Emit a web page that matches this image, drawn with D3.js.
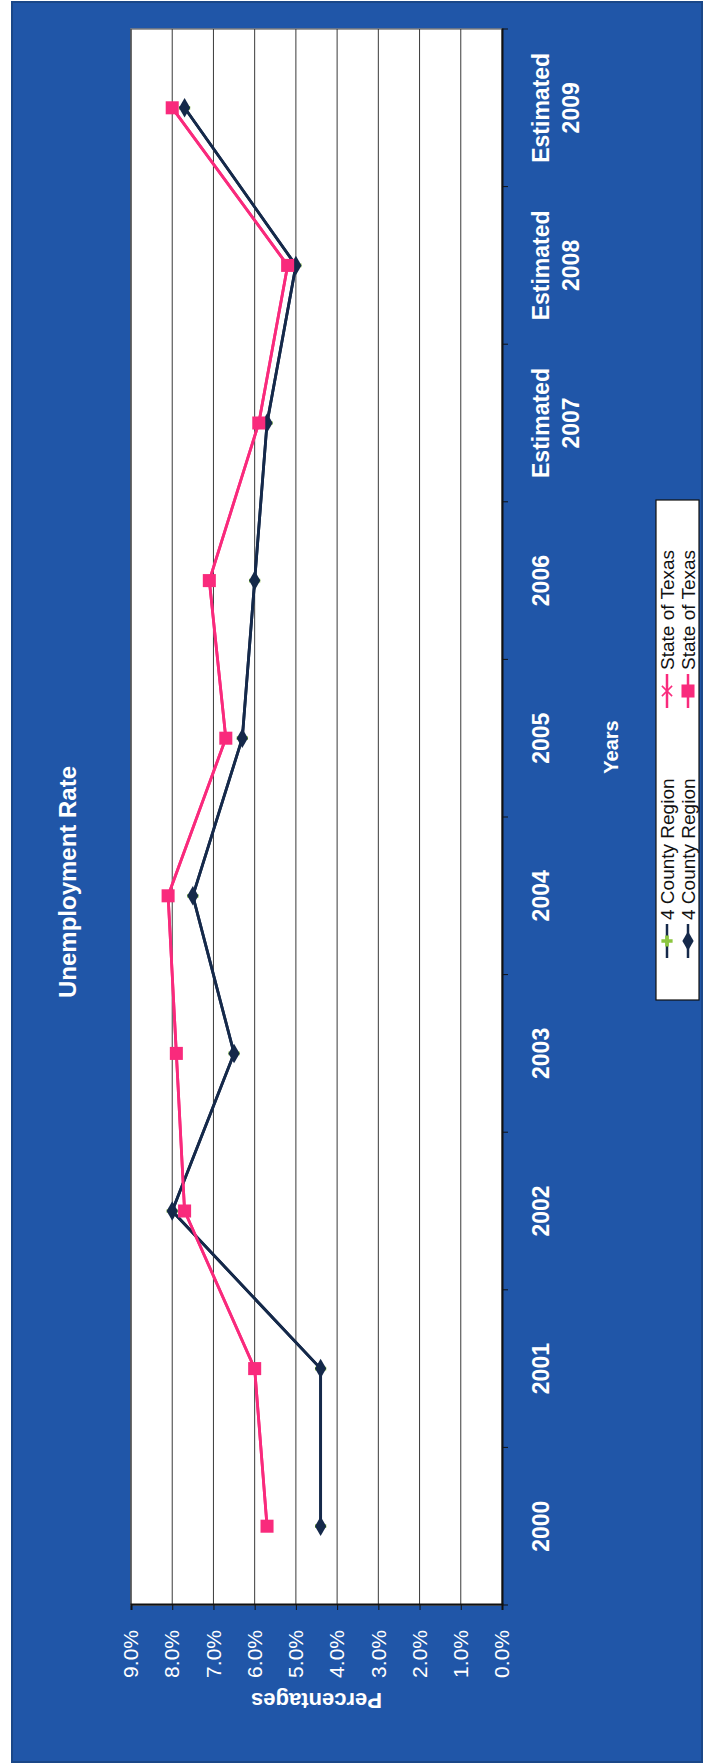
<!DOCTYPE html>
<html><head><meta charset="utf-8">
<script src="https://cdn.jsdelivr.net/npm/d3@7/dist/d3.min.js"></script>
<style>
html,body{margin:0;padding:0;background:#fff;}
svg{display:block;font-family:"Liberation Sans",Arial,Helvetica,sans-serif;}
</style>
</head><body>
<svg id="chart" width="709" height="1764"></svg>
<script>
// ---- data ----
const categories = ["2000","2001","2002","2003","2004","2005","2006","Estimated 2007","Estimated 2008","Estimated 2009"];
const countyRegion = [4.4, 4.4, 8.0, 6.5, 7.5, 6.3, 6.0, 5.7, 5.0, 7.7];
const stateOfTexas = [5.7, 6.0, 7.7, 7.9, 8.1, 6.7, 7.1, 5.9, 5.2, 8.0];
const yTickValues = [0,1,2,3,4,5,6,7,8,9];
const yTickLabels = ["0.0%","1.0%","2.0%","3.0%","4.0%","5.0%","6.0%","7.0%","8.0%","9.0%"];
const seriesNames = ["4 County Region","4 County Region","State of Texas","State of Texas"];
const chartTitle = "Unemployment Rate";
const xTitle = "Years";
const yTitle = "Percentages";

// ---- styling ----
const BLUE = "#2056a8", NAVY = "#15294a", PINK = "#f92a7c", GREEN = "#8cc63f";

// The chart is drawn in its own (landscape) frame and turned a quarter turn counter-clockwise.
const W = 1764, H = 709;
const svg = d3.select("#chart");
const g = svg.append("g").attr("transform", `translate(0,${W}) rotate(-90)`);

// background panel
g.append("rect").attr("x",2).attr("y",12).attr("width",W-4).attr("height",690)
  .attr("fill",BLUE).attr("stroke","#1a4788").attr("stroke-width",2);

const plot = {left:159, right:1735, top:131, bottom:502};

const x = d3.scaleBand().domain(categories).range([plot.left, plot.right]);
const y = d3.scaleLinear().domain([0,9]).range([plot.bottom, plot.top]);
const cx = c => x(c) + x.bandwidth()/2;

// plot area
g.append("rect").attr("x",plot.left).attr("y",plot.top)
  .attr("width",plot.right-plot.left).attr("height",plot.bottom-plot.top)
  .attr("fill","#fff").attr("stroke","#7f7f7f").attr("stroke-width",1.5);

// gridlines
g.append("g").selectAll("line").data(yTickValues.filter(v=>v>0)).join("line")
  .attr("x1",plot.left).attr("x2",plot.right)
  .attr("y1",d=>y(d)).attr("y2",d=>y(d))
  .attr("stroke","#3a3a3a").attr("stroke-width",1);

// value axis
const yAxis = g.append("g").attr("transform",`translate(${plot.left},0)`)
  .call(d3.axisLeft(y).tickValues(yTickValues).tickFormat((d,i)=>yTickLabels[i]).tickSize(5).tickPadding(20));
yAxis.select(".domain").attr("stroke","#111").attr("stroke-width",2);
yAxis.selectAll(".tick line").attr("stroke","#111");
yAxis.selectAll("text").attr("fill","#fff").attr("font-size",21);

// category axis
const xAxis = g.append("g").attr("transform",`translate(0,${plot.bottom})`)
  .call(d3.axisBottom(x).tickSize(0).tickPadding(31));
xAxis.select(".domain").attr("stroke","#111").attr("stroke-width",2);
xAxis.selectAll("text").attr("fill","#fff").attr("font-size",23).attr("font-weight","bold")
  .each(function(d){
    const t = d3.select(this); const parts = d.split(" ");
    t.text(null);
    parts.forEach((p,i)=>t.append("tspan").attr("x",0).attr("dy", i===0 ? "0.71em" : "30px").text(p));
  }).attr("dy",null);
// boundary tick marks
g.append("g").selectAll("line").data(d3.range(categories.length+1)).join("line")
  .attr("x1",i=>plot.left + i*x.step()).attr("x2",i=>plot.left + i*x.step())
  .attr("y1",plot.bottom).attr("y2",plot.bottom+6).attr("stroke","#111");

// series lines
const line = vals => d3.line().x((d,i)=>cx(categories[i])).y(d=>y(d))(vals);
const series = [
  {vals:countyRegion, color:NAVY, marker:"plus", mcolor:GREEN},
  {vals:stateOfTexas, color:PINK, marker:"cross", mcolor:PINK},
  {vals:countyRegion, color:NAVY, marker:"diamond", mcolor:NAVY},
  {vals:stateOfTexas, color:PINK, marker:"square", mcolor:PINK}
];
const symbolPath = {
  plus: d3.symbol(d3.symbolCross, 70)(),
  cross: d3.symbol(d3.symbolX, 70)(),
  diamond: d3.symbol(d3.symbolDiamond, 110)(),
  square: d3.symbol(d3.symbolSquare, 170)()
};
series.forEach(s=>{
  g.append("path").attr("d",line(s.vals)).attr("fill","none")
    .attr("stroke",s.color).attr("stroke-width",2.8).attr("stroke-linejoin","round");
});
series.forEach(s=>{
  g.append("g").selectAll("path").data(s.vals).join("path")
    .attr("transform",(d,i)=>`translate(${cx(categories[i])},${y(d)}) rotate(90)`)
    .attr("d",symbolPath[s.marker])
    .attr("fill", s.marker==="cross" ? "none" : s.mcolor)
    .attr("stroke", s.marker==="cross" ? s.mcolor : "none").attr("stroke-width",2);
});

// titles
g.append("text").attr("x",(2+W-2)/2).attr("y",76).attr("text-anchor","middle")
  .attr("fill","#fff").attr("font-weight","bold").attr("font-size",24).text(chartTitle);
g.append("text").attr("x",1017).attr("y",618).attr("text-anchor","middle")
  .attr("fill","#fff").attr("font-weight","bold").attr("font-size",20).text(xTitle);
g.append("text").attr("transform",`translate(71,${(plot.top+plot.bottom)/2}) rotate(-90)`)
  .attr("text-anchor","middle").attr("fill","#fff").attr("font-weight","bold").attr("font-size",22).text(yTitle);

// legend
const lg = g.append("g");
lg.append("rect").attr("x",764).attr("y",656).attr("width",500).attr("height",43)
  .attr("fill","#fff").attr("stroke","#111").attr("stroke-width",1.2);
const legendItems = [
  {name:seriesNames[0], s:series[0], lx:806, ly:667},
  {name:seriesNames[1], s:series[2], lx:806, ly:688},
  {name:seriesNames[2], s:series[1], lx:1056, ly:667},
  {name:seriesNames[3], s:series[3], lx:1056, ly:688}
];
legendItems.forEach(it=>{
  lg.append("line").attr("x1",it.lx).attr("x2",it.lx+34).attr("y1",it.ly).attr("y2",it.ly)
    .attr("stroke",it.s.color).attr("stroke-width",2.5);
  lg.append("path").attr("transform",`translate(${it.lx+17},${it.ly}) rotate(90)`)
    .attr("d",symbolPath[it.s.marker])
    .attr("fill", it.s.marker==="cross" ? "none" : it.s.mcolor)
    .attr("stroke", it.s.marker==="cross" ? it.s.mcolor : "none").attr("stroke-width",1.5);
  lg.append("text").attr("x",it.lx+38).attr("y",it.ly).attr("dy","0.35em")
    .attr("font-size",19).attr("fill","#111").text(it.name);
});
</script>
</body></html>
